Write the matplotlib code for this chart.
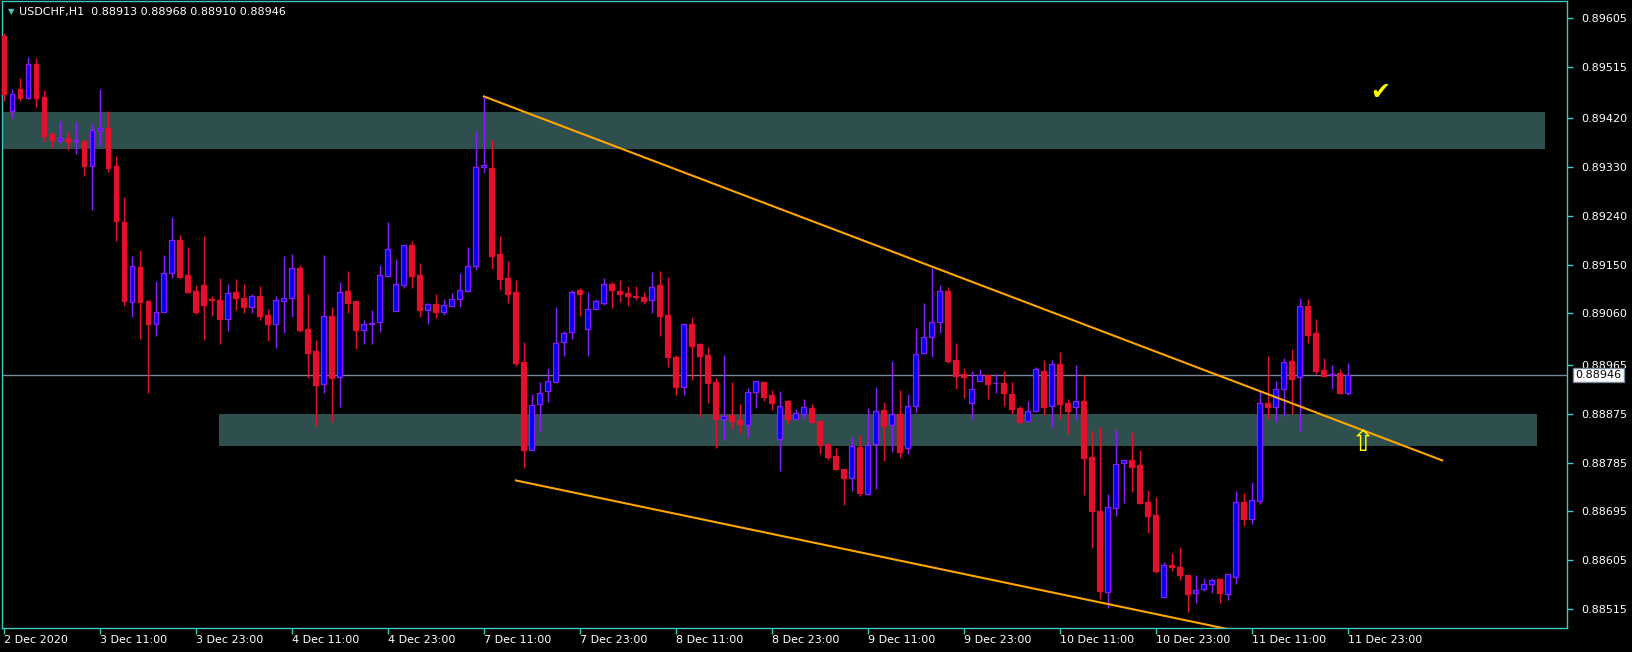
"""USDCHF H1 candlestick chart, MT4 style."""
import matplotlib
matplotlib.use("Agg")
import matplotlib.pyplot as plt
from matplotlib.patches import Rectangle

# OHLC per hourly bar, 2 Dec 23:00 -> 11 Dec 23:00 (weekend skipped)
opens = [0.89572, 0.89434, 0.89474, 0.89458, 0.89520, 0.89459, 0.89390, 0.89380, 0.89383, 0.89378,
         0.89378, 0.89331, 0.89398, 0.89401, 0.89331, 0.89229, 0.89081, 0.89146, 0.89082, 0.89041,
         0.89063, 0.89134, 0.89196, 0.89130, 0.89101, 0.89112, 0.89086, 0.89084, 0.89050, 0.89099,
         0.89088, 0.89072, 0.89092, 0.89057, 0.89041, 0.89083, 0.89088, 0.89144, 0.89031, 0.88990,
         0.88930, 0.89056, 0.88942, 0.89101, 0.89082, 0.89030, 0.89041, 0.89044, 0.89129, 0.89064,
         0.89112, 0.89187, 0.89130, 0.89066, 0.89078, 0.89063, 0.89073, 0.89087, 0.89101, 0.89147,
         0.89330, 0.89328, 0.89169, 0.89125, 0.89099, 0.88970, 0.88809, 0.88893, 0.88917, 0.88934,
         0.89008, 0.89025, 0.89103, 0.89032, 0.89068, 0.89080, 0.89115, 0.89102, 0.89097, 0.89093,
         0.89091, 0.89085, 0.89112, 0.89057, 0.88980, 0.88924, 0.89041, 0.89003, 0.88983, 0.88933,
         0.88865, 0.88872, 0.88864, 0.88855, 0.88915, 0.88933, 0.88909, 0.88828, 0.88898, 0.88866,
         0.88874, 0.88885, 0.88862, 0.88819, 0.88797, 0.88773, 0.88757, 0.88814, 0.88727, 0.88820,
         0.88882, 0.88854, 0.88874, 0.88812, 0.88889, 0.88987, 0.89016, 0.89044, 0.89102, 0.88974,
         0.88948, 0.88895, 0.88936, 0.88946, 0.88931, 0.88931, 0.88912, 0.88885, 0.88861, 0.88880,
         0.88953, 0.88890, 0.88966, 0.88894, 0.88887, 0.88898, 0.88795, 0.88696, 0.88547, 0.88702,
         0.88784, 0.88790, 0.88780, 0.88713, 0.88689, 0.88538, 0.88596, 0.88592, 0.88578, 0.88544,
         0.88552, 0.88561, 0.88571, 0.88543, 0.88574, 0.88713, 0.88681, 0.88715, 0.88894, 0.88888,
         0.88920, 0.88972, 0.88942, 0.89074, 0.89023, 0.88955, 0.88947, 0.88951, 0.88913]
highs = [0.89577, 0.89474, 0.89494, 0.89533, 0.89531, 0.89471, 0.89395, 0.89415, 0.89395, 0.89413,
         0.89380, 0.89410, 0.89474, 0.89434, 0.89351, 0.89275, 0.89165, 0.89177, 0.89084, 0.89119,
         0.89167, 0.89237, 0.89205, 0.89182, 0.89113, 0.89202, 0.89092, 0.89125, 0.89114, 0.89123,
         0.89114, 0.89095, 0.89110, 0.89069, 0.89092, 0.89165, 0.89169, 0.89149, 0.89095, 0.89011,
         0.89167, 0.89071, 0.89117, 0.89138, 0.89082, 0.89047, 0.89066, 0.89149, 0.89228, 0.89160,
         0.89187, 0.89193, 0.89153, 0.89080, 0.89095, 0.89086, 0.89097, 0.89135, 0.89183, 0.89397,
         0.89460, 0.89380, 0.89202, 0.89156, 0.89121, 0.89007, 0.88911, 0.88933, 0.88959, 0.89071,
         0.89028, 0.89103, 0.89106, 0.89099, 0.89087, 0.89125, 0.89117, 0.89121, 0.89110, 0.89110,
         0.89100, 0.89136, 0.89138, 0.89127, 0.88983, 0.89041, 0.89053, 0.89005, 0.88998, 0.88941,
         0.88983, 0.88933, 0.88893, 0.88922, 0.88935, 0.88933, 0.88918, 0.88917, 0.88900, 0.88884,
         0.88902, 0.88893, 0.88862, 0.88821, 0.88812, 0.88774, 0.88833, 0.88836, 0.88885, 0.88924,
         0.88896, 0.88972, 0.88919, 0.88911, 0.89033, 0.89079, 0.89144, 0.89112, 0.89108, 0.89005,
         0.88959, 0.88953, 0.88957, 0.88946, 0.88948, 0.88953, 0.88933, 0.88889, 0.88898, 0.88962,
         0.88974, 0.88974, 0.88988, 0.88902, 0.88965, 0.88946, 0.88843, 0.88850, 0.88727, 0.88845,
         0.88789, 0.88841, 0.88808, 0.88735, 0.88722, 0.88602, 0.88619, 0.88630, 0.88578, 0.88578,
         0.88573, 0.88573, 0.88573, 0.88580, 0.88732, 0.88728, 0.88750, 0.88917, 0.88981, 0.88935,
         0.88977, 0.88994, 0.89088, 0.89086, 0.89049, 0.88977, 0.88964, 0.88957, 0.88968]
lows = [0.89452, 0.89421, 0.89452, 0.89456, 0.89440, 0.89377, 0.89366, 0.89374, 0.89362, 0.89353,
        0.89313, 0.89250, 0.89368, 0.89320, 0.89193, 0.89074, 0.89053, 0.89012, 0.88913, 0.89018,
        0.89062, 0.89125, 0.89125, 0.89097, 0.89059, 0.89011, 0.89055, 0.89003, 0.89028, 0.89066,
        0.89060, 0.89061, 0.89047, 0.89009, 0.88996, 0.89023, 0.89053, 0.89026, 0.88941, 0.88853,
        0.88913, 0.88860, 0.88888, 0.89060, 0.88994, 0.89003, 0.89003, 0.89026, 0.89127, 0.89064,
        0.89106, 0.89107, 0.89053, 0.89040, 0.89051, 0.89058, 0.89073, 0.89072, 0.89099, 0.89140,
        0.89319, 0.89141, 0.89104, 0.89080, 0.88963, 0.88775, 0.88809, 0.88844, 0.88896, 0.88934,
        0.88982, 0.89013, 0.89055, 0.88982, 0.89068, 0.89076, 0.89070, 0.89081, 0.89074, 0.89085,
        0.89077, 0.89061, 0.89018, 0.88961, 0.88909, 0.88910, 0.88938, 0.88869, 0.88895, 0.88812,
        0.88827, 0.88847, 0.88839, 0.88833, 0.88886, 0.88898, 0.88882, 0.88770, 0.88858, 0.88864,
        0.88866, 0.88859, 0.88801, 0.88790, 0.88772, 0.88707, 0.88733, 0.88724, 0.88725, 0.88737,
        0.88788, 0.88805, 0.88794, 0.88801, 0.88876, 0.88986, 0.88980, 0.89024, 0.88969, 0.88920,
        0.88904, 0.88865, 0.88936, 0.88902, 0.88914, 0.88890, 0.88874, 0.88858, 0.88861, 0.88878,
        0.88873, 0.88850, 0.88865, 0.88838, 0.88864, 0.88725, 0.88627, 0.88534, 0.88516, 0.88687,
        0.88711, 0.88731, 0.88709, 0.88656, 0.88582, 0.88538, 0.88586, 0.88568, 0.88509, 0.88527,
        0.88548, 0.88544, 0.88527, 0.88531, 0.88561, 0.88668, 0.88672, 0.88709, 0.88865, 0.88859,
        0.88871, 0.88874, 0.88844, 0.89006, 0.88948, 0.88943, 0.88921, 0.88911, 0.88910]
closes = [0.89465, 0.89464, 0.89458, 0.89520, 0.89458, 0.89388, 0.89379, 0.89383, 0.89376, 0.89379,
          0.89331, 0.89398, 0.89401, 0.89329, 0.89230, 0.89083, 0.89148, 0.89081, 0.89040, 0.89063,
          0.89135, 0.89196, 0.89127, 0.89099, 0.89063, 0.89075, 0.89085, 0.89049, 0.89098, 0.89088,
          0.89072, 0.89092, 0.89055, 0.89041, 0.89084, 0.89089, 0.89144, 0.89029, 0.88987, 0.88928,
          0.89056, 0.88941, 0.89100, 0.89080, 0.89030, 0.89041, 0.89042, 0.89130, 0.89178, 0.89115,
          0.89187, 0.89129, 0.89066, 0.89078, 0.89063, 0.89076, 0.89087, 0.89104, 0.89148, 0.89330,
          0.89334, 0.89166, 0.89123, 0.89095, 0.88968, 0.88808, 0.88892, 0.88914, 0.88935, 0.89006,
          0.89023, 0.89100, 0.89096, 0.89068, 0.89083, 0.89115, 0.89103, 0.89096, 0.89092, 0.89090,
          0.89083, 0.89108, 0.89055, 0.88980, 0.88924, 0.89041, 0.89000, 0.88982, 0.88932, 0.88866,
          0.88871, 0.88862, 0.88856, 0.88916, 0.88935, 0.88906, 0.88895, 0.88889, 0.88866, 0.88876,
          0.88887, 0.88860, 0.88818, 0.88796, 0.88774, 0.88757, 0.88815, 0.88728, 0.88817, 0.88881,
          0.88853, 0.88874, 0.88805, 0.88889, 0.88986, 0.89016, 0.89044, 0.89102, 0.88973, 0.88945,
          0.88943, 0.88920, 0.88946, 0.88929, 0.88932, 0.88914, 0.88884, 0.88860, 0.88880, 0.88957,
          0.88888, 0.88966, 0.88893, 0.88881, 0.88898, 0.88794, 0.88696, 0.88549, 0.88703, 0.88782,
          0.88789, 0.88777, 0.88711, 0.88687, 0.88586, 0.88596, 0.88592, 0.88577, 0.88542, 0.88550,
          0.88561, 0.88569, 0.88544, 0.88580, 0.88712, 0.88681, 0.88716, 0.88894, 0.88888, 0.88920,
          0.88970, 0.88940, 0.89074, 0.89021, 0.88954, 0.88945, 0.88947, 0.88914, 0.88946]

time_labels = ["2 Dec 2020", "3 Dec 11:00", "3 Dec 23:00", "4 Dec 11:00", "4 Dec 23:00",
               "7 Dec 11:00", "7 Dec 23:00", "8 Dec 11:00", "8 Dec 23:00", "9 Dec 11:00",
               "9 Dec 23:00", "10 Dec 11:00", "10 Dec 23:00", "11 Dec 11:00", "11 Dec 23:00"]
price_ticks = [0.89605, 0.89515, 0.89420, 0.89330, 0.89240, 0.89150, 0.89060,
               0.88965, 0.88875, 0.88785, 0.88695, 0.88605, 0.88515]
bid = 0.88946

# supply / demand zones: (bar_from, bar_to, price_low, price_high)
zones = [(-1, 192.6, 0.89364, 0.89432), (26.9, 191.7, 0.88816, 0.88874)]
# trend lines: (bar0, price0, bar1, price1)
trendlines = [(60, 0.89460, 179.8, 0.88789), (64, 0.88752, 153, 0.88478)]

BG = "black"
FG = "white"
FRAME = "#40c8c0"
BULL = "#0000ff"
BULL_EDGE = "#8a1cff"
BEAR = "#e4102c"

W, H = 1633, 652
fig = plt.figure(figsize=(W / 100, H / 100), dpi=100, facecolor=BG)
ax = fig.add_axes([2 / W, (H - 628) / H, 1565 / W, 627 / H], facecolor=BG)

for b0, b1, lo, hi in zones:
    ax.add_patch(Rectangle((b0, lo), b1 - b0, hi - lo, facecolor="#2f4f4f", edgecolor="none", zorder=1))

ax.axhline(bid, color="#778899", lw=1, zorder=2)

n = len(opens)
for i in range(n):
    o, h, l, c = opens[i], highs[i], lows[i], closes[i]
    up = c >= o
    wick = BULL_EDGE if up else BEAR
    ax.vlines(i, l, h, color=wick, lw=1, zorder=3)
    bottom = min(o, c)
    height = max(abs(c - o), 0.000005)
    ax.bar(i, height, bottom=bottom, width=0.62, color=BULL if up else BEAR,
           edgecolor=wick, linewidth=0.9, zorder=4)

for b0, p0, b1, p1 in trendlines:
    ax.plot([b0, b1], [p0, p1], color="#ffa500", lw=1.5, zorder=5)

ax.text(172, 0.89469, "\u2714", color="yellow", fontsize=17, ha="center", va="center", zorder=6)
ax.text(169.75, 0.88822, "\u21e7", color="yellow", fontsize=21, ha="center", va="center", zorder=6)

ax.set_xlim(-0.25, 195.4)
ax.set_ylim(0.88480, 0.89636)

ax.set_xticks(range(0, n, 12))
ax.set_xticklabels(time_labels, ha="left")
ax.yaxis.tick_right()
ax.set_yticks(price_ticks)
ax.set_yticklabels([f"{p:.5f}" for p in price_ticks])
ax.tick_params(axis="both", colors=FRAME, labelcolor=FG, labelsize=8, length=4, width=1)
ax.tick_params(axis="x", pad=1)
ax.tick_params(axis="y", pad=6)
for s in ax.spines.values():
    s.set_color(FRAME)
    s.set_linewidth(1)

ax.annotate(f"{bid:.5f}", xy=(1, bid), xycoords=("axes fraction", "data"),
            xytext=(6, 0), textcoords="offset points", va="center", ha="left",
            fontsize=8, color="black",
            bbox=dict(boxstyle="square,pad=0.2", fc="white", ec="#778899"))

fig.text(8 / W, 1 - 12 / H, "\u25bc", color=FRAME, fontsize=6, va="center")
fig.text(19 / W, 1 - 12 / H, "USDCHF,H1  0.88913 0.88968 0.88910 0.88946",
         color=FG, fontsize=8, va="center")

fig.savefig("out.png", dpi=100, facecolor=BG)
